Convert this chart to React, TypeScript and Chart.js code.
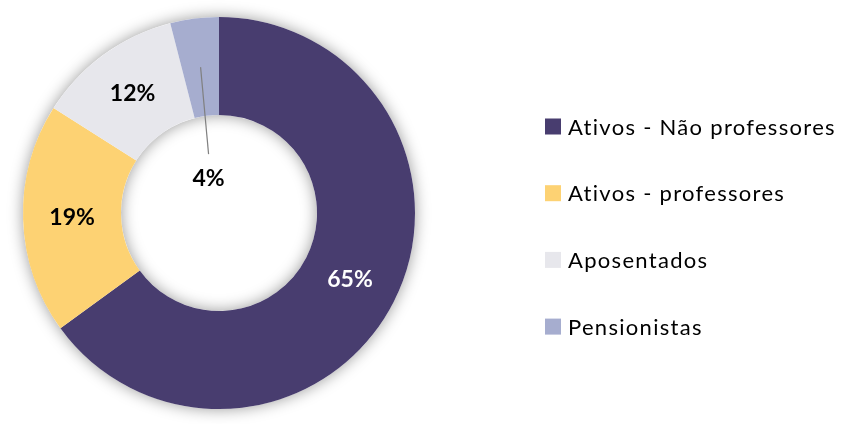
import React, { useEffect, useRef } from 'react';
import { Chart, registerables } from 'chart.js';

Chart.register(...registerables);

const categories = ['Ativos - Não professores', 'Ativos - professores', 'Aposentados', 'Pensionistas'];
const values = [65, 19, 12, 4];
const valueLabels = ['65%', '19%', '12%', '4%'];
const colors = ['#483D6F', '#FDD273', '#E7E7EC', '#A6ADCF'];
const labelColors = ['#FFFFFF', '#000000', '#000000', '#000000'];

const FONT = 'Lato, "DejaVu Sans", sans-serif';

const ringShadow = {
  id: 'ringShadow',
  beforeDatasetsDraw(chart: any) {
    const arc = chart.getDatasetMeta(0).data[0];
    if (!arc) return;
    const { x, y, outerRadius, innerRadius } = arc.getProps(['x', 'y', 'outerRadius', 'innerRadius'], true);
    const ctx = chart.ctx;
    ctx.save();
    ctx.beginPath();
    ctx.arc(x, y, outerRadius, 0, Math.PI * 2);
    ctx.arc(x, y, innerRadius, 0, Math.PI * 2, true);
    ctx.closePath();
    ctx.shadowColor = 'rgba(0,0,0,0.4)';
    ctx.shadowBlur = 15;
    ctx.fillStyle = '#ffffff';
    ctx.fill();
    ctx.restore();
  },
};

const sliceLabels = {
  id: 'sliceLabels',
  afterDatasetsDraw(chart: any, _args: any, opts: any) {
    const ctx = chart.ctx;
    const meta = chart.getDatasetMeta(0);
    ctx.save();
    ctx.font = `bold 23px ${FONT}`;
    ctx.textAlign = 'center';
    ctx.textBaseline = 'middle';
    meta.data.forEach((arc: any, i: number) => {
      const p = arc.getCenterPoint(true);
      const off = (opts.offsets || {})[i];
      let lx = p.x;
      let ly = p.y;
      if (off) {
        lx = p.x + off[0];
        ly = p.y + off[1];
        ctx.strokeStyle = '#808080';
        ctx.lineWidth = 1.2;
        ctx.beginPath();
        ctx.moveTo(p.x, p.y);
        ctx.lineTo(lx, ly - 24);
        ctx.stroke();
      }
      ctx.fillStyle = labelColors[i];
      ctx.fillText(valueLabels[i], lx, ly);
    });
    ctx.restore();
  },
};

const sideLegend = {
  id: 'sideLegend',
  afterDraw(chart: any, _args: any, opts: any) {
    const ctx = chart.ctx;
    const area = chart.chartArea;
    const cy = (area.top + area.bottom) / 2;
    const x0 = area.right + opts.gap;
    ctx.save();
    ctx.font = `22px ${FONT}`;
    try { (ctx as any).letterSpacing = '1.3px'; } catch (e) {}
    ctx.textAlign = 'left';
    ctx.textBaseline = 'middle';
    chart.data.labels.forEach((label: string, i: number) => {
      const y = cy + opts.first + i * opts.step;
      ctx.fillStyle = chart.data.datasets[0].backgroundColor[i];
      ctx.fillRect(x0, y - 8, 16, 16);
      ctx.fillStyle = '#000000';
      ctx.fillText(label, x0 + 23, y + 1);
    });
    ctx.restore();
  },
};

export default function App() {
  const ref = useRef<HTMLCanvasElement | null>(null);
  useEffect(() => {
    if (!ref.current) return;
    const chart = new Chart(ref.current, {
      type: 'doughnut',
      data: {
        labels: categories,
        datasets: [
          {
            data: values,
            backgroundColor: colors,
            borderWidth: 0,
          },
        ],
      },
      options: {
        responsive: true,
        maintainAspectRatio: false,
        animation: false,
        cutout: '50%',
        layout: { padding: { left: 23, right: 430, top: 17, bottom: 15 } },
        plugins: {
          legend: { display: false },
          tooltip: { enabled: false },
          sliceLabels: { offsets: { 3: [8, 111] } },
          sideLegend: { gap: 130, first: -86.5, step: 66.7 },
        } as any,
      },
      plugins: [ringShadow, sliceLabels, sideLegend],
    });
    return () => chart.destroy();
  }, []);
  return (
    <div style={{ position: 'fixed', left: 0, top: 0, width: 845, height: 424, background: '#fff' }}>
      <canvas ref={ref} />
    </div>
  );
}
